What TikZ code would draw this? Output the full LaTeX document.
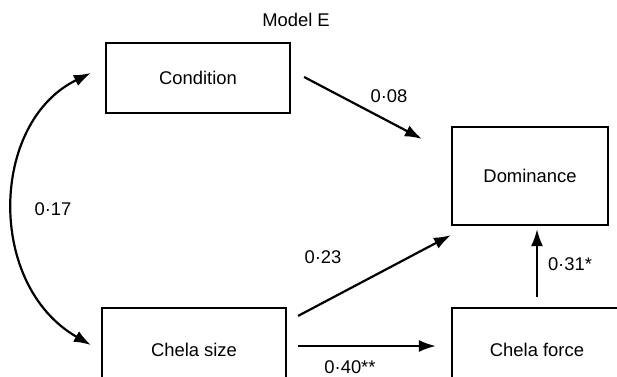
\documentclass[tikz,border=0pt]{standalone}
\usepackage{fontspec}
\setmainfont{Liberation Sans}
\usetikzlibrary{arrows.meta}

\begin{document}
\begin{tikzpicture}[x=0.5pt, y=-0.5pt, every node/.style={font=\fontsize{9.2}{11}\selectfont},
		box/.style={draw, line width=1.1pt, inner sep=0pt},
		path/.style={line width=1.1pt, -{Latex[length=8.5pt,width=6pt]}}]
		\useasboundingbox (0,0) rectangle (617,376);
		\clip (0,0) rectangle (617,376);
		
		%---------------- TITLE ----------------
		\node (title) at (296,20) {Model E};
		
		%---------------- BOXES ----------------
		\node[box, minimum width=92pt, minimum height=35pt] (cond) at (198,78) {Condition};
		\node[box, minimum width=78pt, minimum height=49pt] (dom) at (530,176) {Dominance};
		% bottom boxes run past the lower edge
		\node[box, minimum width=92pt, minimum height=42pt] (size) at (194,350) {Chela size};
		\node[box, minimum width=85pt, minimum height=42pt] (force) at (537,350) {Chela force};
		
		%---------------- PATHS ----------------
		% correlation between the two predictors
		\draw[path, {Latex[length=8.5pt,width=6pt]}-{Latex[length=8.5pt,width=6pt]}]
			([shift={(-14,-5)}]cond.west) .. controls (-10,122) and (-14,285) .. ([shift={(-10,-5)}]size.west);
		% direct effects
		\draw[path] ([shift={(13,-1)}]cond.east) -- ([shift={(-29,13)}]dom.north west);
		\draw[path] ([shift={(11,9)}]size.north east) -- ([shift={(0,9)}]dom.south west);
		\draw[path] ([shift={(11,-4)}]size.east) -- ([shift={(-15,-4)}]force.west);
		\draw[path] ([shift={(0,-10)}]force.north) -- ([shift={(7,3)}]dom.south);
		
		%---------------- COEFFICIENTS ----------------
		\foreach \P/\N/\T in {53/209/r17, 389/96/r08, 323/257/r23, 350/367/r40, 570/264/r31} {
			\coordinate (\T) at (\P,\N);
		}
		\node at (r17) {0·17};
		\node at (r08) {0·08};
		\node at (r23) {0·23};
		\node at (r40) {0·40**};
		\node at (r31) {0·31*};
	\end{tikzpicture}
\end{document}
